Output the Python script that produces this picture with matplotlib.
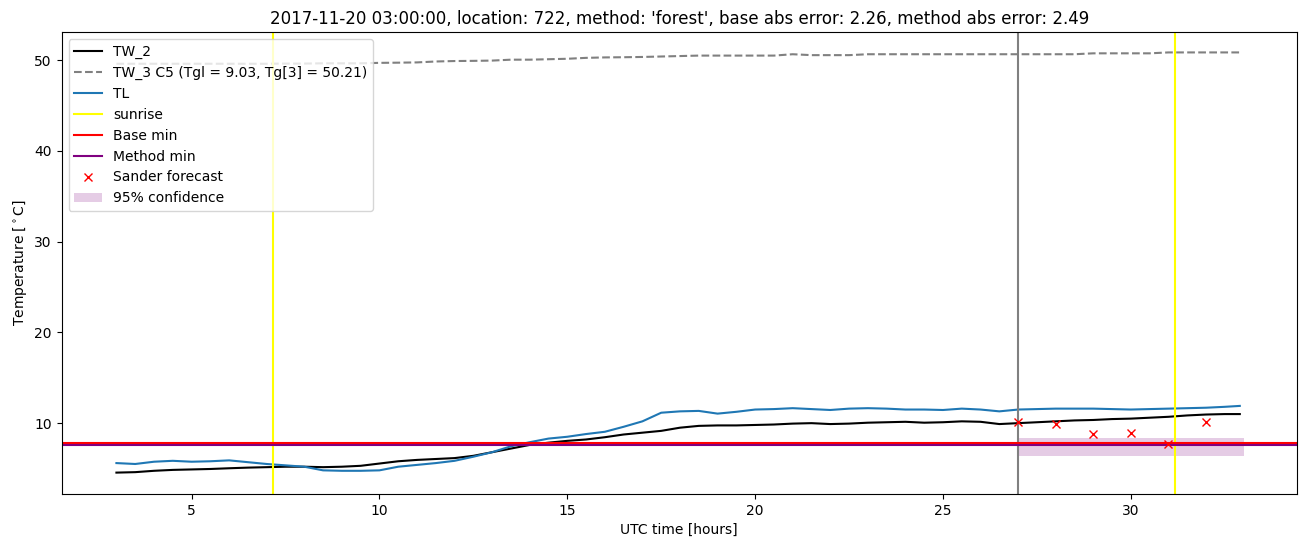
import matplotlib
matplotlib.use("Agg")
import matplotlib.pyplot as plt
import numpy as np

hours = [3.0, 3.5, 4.0, 4.5, 5.0, 5.5, 6.0, 6.5, 7.0, 7.5, 8.0, 8.5, 9.0, 9.5,
         10.0, 10.5, 11.0, 11.5, 12.0, 12.5, 13.0, 13.5, 14.0, 14.5, 15.0, 15.5,
         16.0, 16.5, 17.0, 17.5, 18.0, 18.5, 19.0, 19.5, 20.0, 20.5, 21.0, 21.5,
         22.0, 22.5, 23.0, 23.5, 24.0, 24.5, 25.0, 25.5, 26.0, 26.5, 27.0, 27.5,
         28.0, 28.5, 29.0, 29.5, 30.0, 30.5, 31.0, 31.5, 32.0, 32.5, 32.9]

tw2 = [4.55, 4.6, 4.75, 4.85, 4.9, 4.95, 5.03, 5.1, 5.15, 5.2, 5.2, 5.15, 5.2, 5.3,
       5.55, 5.8, 5.95, 6.05, 6.15, 6.4, 6.8, 7.2, 7.6, 7.85, 8.05, 8.2,
       8.45, 8.75, 8.95, 9.15, 9.5, 9.7, 9.75, 9.75, 9.8, 9.85, 9.95, 10.0,
       9.9, 9.95, 10.05, 10.1, 10.15, 10.05, 10.1, 10.2, 10.15, 9.9, 10.0, 10.1,
       10.2, 10.3, 10.35, 10.45, 10.5, 10.6, 10.7, 10.85, 10.95, 11.0, 11.0]

tl = [5.6, 5.5, 5.75, 5.85, 5.75, 5.8, 5.9, 5.7, 5.5, 5.35, 5.2, 4.8, 4.75, 4.75,
      4.8, 5.2, 5.4, 5.6, 5.85, 6.3, 6.8, 7.45, 7.9, 8.3, 8.5, 8.8,
      9.05, 9.6, 10.2, 11.15, 11.3, 11.35, 11.05, 11.25, 11.5, 11.55, 11.65, 11.55,
      11.45, 11.6, 11.65, 11.6, 11.5, 11.5, 11.45, 11.6, 11.5, 11.3, 11.5, 11.55,
      11.6, 11.6, 11.6, 11.55, 11.5, 11.55, 11.6, 11.65, 11.7, 11.8, 11.9]

tw3 = [49.6, 49.6, 49.6, 49.6, 49.6, 49.6, 49.6, 49.6, 49.6, 49.62, 49.62, 49.65, 49.65, 49.65,
       49.7, 49.72, 49.75, 49.85, 49.9, 49.92, 49.95, 50.05, 50.05, 50.1, 50.15, 50.25,
       50.3, 50.32, 50.35, 50.4, 50.45, 50.5, 50.5, 50.5, 50.5, 50.5, 50.65, 50.55,
       50.55, 50.55, 50.65, 50.65, 50.65, 50.65, 50.65, 50.65, 50.65, 50.65, 50.65, 50.65,
       50.65, 50.65, 50.75, 50.75, 50.75, 50.75, 50.85, 50.85, 50.85, 50.85, 50.85]

sunrise_hours = [7.18, 31.17]
forecast_start = 27.0
base_min = 7.8
method_min = 7.55

forecast_hours = [27, 28, 29, 30, 31, 32]
forecast_vals = [10.1, 9.9, 8.78, 8.92, 7.68, 10.13]

conf_hours = [27.0, 33.0]
conf_low = [6.39, 6.39]
conf_high = [8.37, 8.37]

title = ("2017-11-20 03:00:00, location: 722, method: 'forest', "
         "base abs error: 2.26, method abs error: 2.49")

fig = plt.figure(figsize=(13.1, 5.47), dpi=100)
ax = fig.add_axes([0.047, 0.097, 0.943, 0.8445])

ax.plot(hours, tw2, color="black", label="TW_2")
ax.plot(hours, tw3, color="gray", linestyle="--",
        label="TW_3 C5 (Tgl = 9.03, Tg[3] = 50.21)")
ax.plot(hours, tl, color="C0", label="TL")
ax.axvline(sunrise_hours[0], color="yellow", label="sunrise")
ax.axvline(sunrise_hours[1], color="yellow")
ax.axvline(forecast_start, color="gray")
ax.axhline(base_min, color="red", label="Base min")
ax.axhline(method_min, color="purple", label="Method min")
ax.plot(forecast_hours, forecast_vals, "x", color="red", linestyle="none",
        label="Sander forecast")
ax.fill_between(conf_hours, conf_low, conf_high, color="purple", alpha=0.2,
                linewidth=0, label="95% confidence")

ax.set_xlim(1.54, 34.42)
ax.set_ylim(2.2, 53.1)
ax.set_title(title)
ax.set_xlabel("UTC time [hours]")
ax.set_ylabel(r"Temperature [$^\circ$C]")
ax.legend(loc="upper left")

fig.savefig("out.png", dpi=100)
